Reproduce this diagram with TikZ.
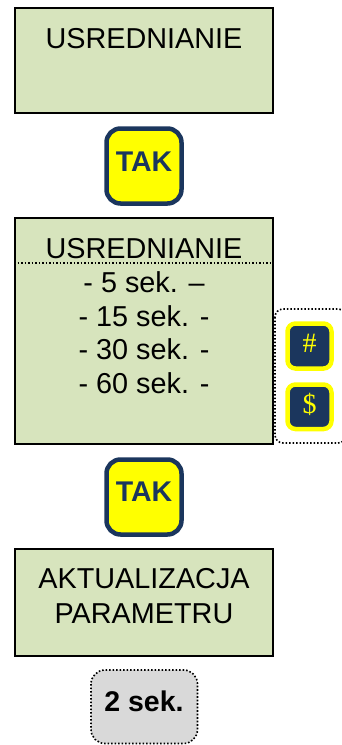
\documentclass[tikz,border=0pt]{standalone}
\usepackage{fontspec}
\setmainfont{Liberation Sans}
\newfontfamily\keyfont{Liberation Serif}
\definecolor{panelgreen}{HTML}{D7E4BD}
\definecolor{navy}{HTML}{1B365D}
\definecolor{keyyellow}{HTML}{FFFF00}
\definecolor{timegray}{HTML}{D9D9D9}
\begin{document}
\begin{tikzpicture}[x=1pt,y=-1pt,
  panel/.style={draw=black,line width=1.3pt,fill=panelgreen},
  label/.style={anchor=base,inner sep=0pt,font=\fontsize{28.8}{34}\selectfont},
  takkey/.style={draw=navy,line width=4.5pt,fill=keyyellow,rounded corners=14pt},
  taklabel/.style={anchor=base,inner sep=0pt,text=navy,font=\fontsize{28.5}{34}\selectfont\bfseries},
  smallkey/.style={draw=keyyellow,line width=4.5pt,fill=navy,rounded corners=8pt},
  keylabel/.style={anchor=base,inner sep=0pt,text=keyyellow,font=\keyfont\fontsize{28}{30}\selectfont},
  dotline/.style={draw=black,line width=1.6pt,dash pattern=on 1.6pt off 1.9pt}
]
\useasboundingbox (0,0) rectangle (342,745);

% first screen
\draw[panel] (15,8) rectangle (273,113);
\node[label] (t1) at (144,48) {USREDNIANIE};

% confirm key
\draw[takkey] (106.5,128.5) rectangle (181.5,203.5);
\node[taklabel] (k1) at (144,171) {TAK};

% selection screen
\draw[panel] (15,218) rectangle (273,444);
\node[label] (t2) at (144,258) {USREDNIANIE};
\draw[dotline] (14,263) -- (273,263);
\node[label] (o1) at (144,292) {- 5 sek. –};
\node[label] (o2) at (144,326) {- 15 sek. -};
\node[label] (o3) at (144,359.5) {- 30 sek. -};
\node[label] (o4) at (144,393) {- 60 sek. -};

% navigation keys group
\begin{scope}
\clip (0,0) rectangle (342,745);
\draw[dotline,rounded corners=8pt] (275,309) rectangle (346,443);
\end{scope}
\draw[smallkey] (287.5,323.5) rectangle (331.5,368.5);
\node[keylabel] (kh) at (309.5,352) {\#};
\draw[smallkey] (287.5,384.5) rectangle (331.5,429);
\node[keylabel] (kd) at (309.5,413) {\$};

% confirm key
\draw[takkey] (106.5,459.5) rectangle (181.5,534.5);
\node[taklabel] (k2) at (144,501) {TAK};

% result screen
\draw[panel] (15,549) rectangle (273,656);
\node[label] (t3) at (144,588) {AKTUALIZACJA};
\node[label] (t4) at (144,623.5) {PARAMETRU};

% delay
\draw[dotline,fill=timegray,rounded corners=14pt] (91,670) rectangle (197.5,743.5);
\node[taklabel,text=black] (d) at (144,711) {2 sek.};
\end{tikzpicture}
\end{document}
